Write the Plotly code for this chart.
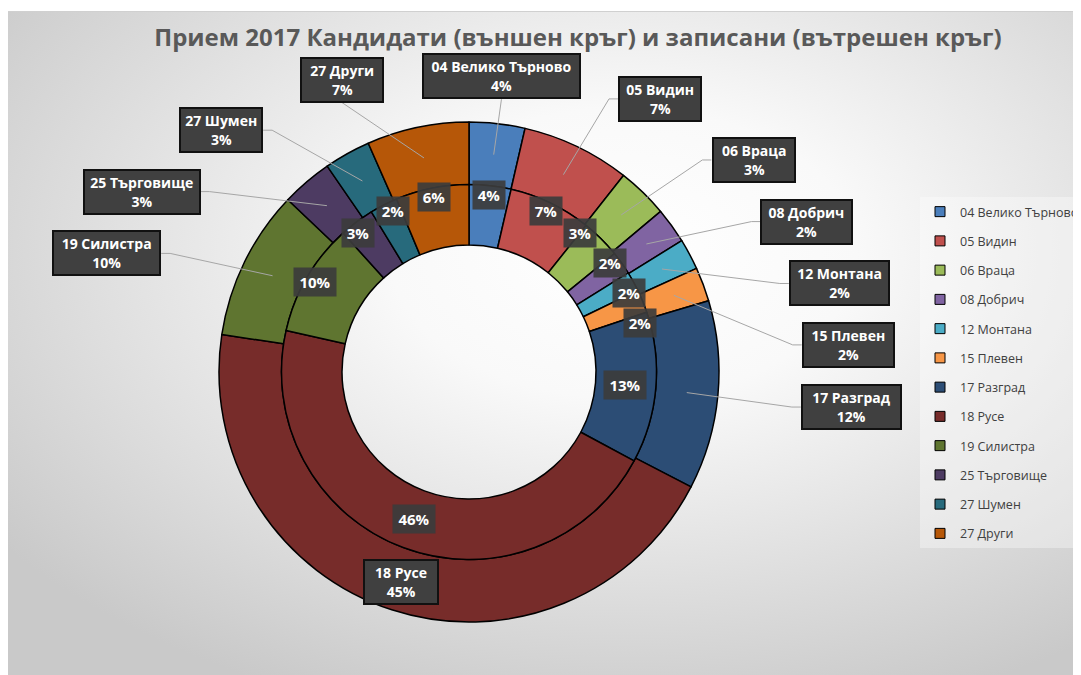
import math, base64
import plotly.graph_objects as go

# ---------------- data ----------------
categories = ["04 Велико Търново", "05 Видин", "06 Враца", "08 Добрич", "12 Монтана",
              "15 Плевен", "17 Разград", "18 Русе", "19 Силистра", "25 Търговище",
              "27 Шумен", "27 Други"]
candidates = [3.6, 7.0, 3.3, 2.3, 2.0, 2.2, 12.2, 44.8, 9.7, 3.3, 3.0, 6.6]   # outer ring
enrolled   = [3.6, 7.1, 3.4, 2.0, 1.7, 2.0, 13.0, 45.6, 9.7, 3.0, 2.4, 6.3]   # inner ring
colors = ["#4a7ebb", "#c0504d", "#9bbb59", "#8064a2", "#4bacc6", "#f79646",
          "#2c4d75", "#772c2a", "#5f7530", "#4d3b62", "#276a7c", "#b65708"]
title = "Прием 2017 Кандидати (външен кръг) и записани (вътрешен кръг)"

# ---------------- geometry (screen pixels) ----------------
W, H = 1081, 675
OFF = 8            # page body margin
CX, CY = 469, 372
R_OUT, R_MID, R_HOLE = 250, 187.5, 127
FONT = "Open Sans"


def px(sx):
    return (sx - OFF) / W


def py(sy):
    return 1 - (sy - OFF) / H


def pt(r, th):
    return CX + r * math.sin(th), CY - r * math.cos(th)


def mids(vals):
    tot = sum(vals)
    out, c = [], 0.0
    for v in vals:
        out.append(2 * math.pi * (c + v / 2) / tot)
        c += v
    return out


def pct(vals):
    tot = sum(vals)
    return [f"{round(100 * v / tot)}%" for v in vals]


def norm(a):
    a = math.fmod(a, 2 * math.pi)
    if a > math.pi:
        a -= 2 * math.pi
    return a


def relax(idx, th, center_of, sizes, mx=6, my=6, step=math.radians(0.25), iters=900):
    for _ in range(iters):
        moved = False
        order = sorted(idx, key=lambda i: norm(th[i]))
        for a in range(len(order)):
            for b in range(a + 1, len(order)):
                i, j = order[a], order[b]
                xi, yi = center_of(i)
                xj, yj = center_of(j)
                wi, hi = sizes[i]
                wj, hj = sizes[j]
                if abs(xi - xj) < (wi + wj) / 2 + mx and abs(yi - yj) < (hi + hj) / 2 + my:
                    th[i] -= 2 * step * wj / (wi + wj)
                    th[j] += 2 * step * wi / (wi + wj)
                    moved = True
        if not moved:
            break


fig = go.Figure()

dom_out = dict(x=[px(CX - R_OUT), px(CX + R_OUT)], y=[py(CY + R_OUT), py(CY - R_OUT)])
dom_in = dict(x=[px(CX - R_MID), px(CX + R_MID)], y=[py(CY + R_MID), py(CY - R_MID)])

fig.add_trace(go.Pie(labels=categories, values=candidates, sort=False, direction="clockwise",
                     rotation=0, hole=R_MID / R_OUT, domain=dom_out, textinfo="none",
                     marker=dict(colors=colors, line=dict(color="#000000", width=1.5)),
                     showlegend=False, name="Кандидати"))
fig.add_trace(go.Pie(labels=categories, values=enrolled, sort=False, direction="clockwise",
                     rotation=0, hole=R_HOLE / R_MID, domain=dom_in, textinfo="none",
                     marker=dict(colors=colors, line=dict(color="#000000", width=1.5)),
                     showlegend=False, name="Записани"))

# legend entries
for c, col in zip(categories, colors):
    fig.add_trace(go.Scatter(x=[None], y=[None], mode="markers", name=c, legendgroup=c,
                             marker=dict(symbol="square", size=10, color=col,
                                         line=dict(color="#000000", width=1)),
                             hoverinfo="skip"))

annotations, shapes = [], []

# ---------------- outer labels ----------------
o_mid = mids(candidates)
o_pct = pct(candidates)
o_th = list(o_mid)
tot_o = sum(candidates)
CH = 8.3
o_sizes = [(CH * len(c) + 18, 46) for c in categories]


def D_of(th):
    return 268 + 66 * abs(math.sin(th))


def o_center(i):
    th = o_th[i]
    w, h = o_sizes[i]
    x0, y0 = pt(D_of(th), th)
    return x0 + w / 2 * math.sin(th), y0 - h / 2 * math.cos(th)


outside = [i for i, v in enumerate(candidates) if v / tot_o < 0.3]
inside = [i for i, v in enumerate(candidates) if v / tot_o >= 0.3]
relax(outside, o_th, o_center, o_sizes, mx=36, my=15)

R_ANCH = (R_MID + R_OUT) / 2
for i in range(len(categories)):
    w, h = o_sizes[i]
    if i in inside:
        cx, cy = pt(R_ANCH + 2, o_mid[i])
    else:
        cx, cy = o_center(i)
        ax_, ay_ = pt(R_ANCH, o_mid[i])
        s = math.sin(o_th[i])
        if abs(s) > 0.4:
            sg = 1 if s > 0 else -1
            bx = cx - sg * w / 2
            path = f"M {ax_},{ay_} L {bx - sg * 9},{cy} L {bx},{cy}"
        else:
            by = cy + h / 2 if math.cos(o_th[i]) > 0 else cy - h / 2
            path = f"M {ax_},{ay_} L {cx},{by}"
        shapes.append(dict(type="path", path=path, xref="x", yref="y", layer="above",
                           line=dict(color="#a6a6a6", width=1)))
    annotations.append(dict(x=cx, y=cy, xref="x", yref="y", showarrow=False,
                            xanchor="center", yanchor="middle",
                            text=f"<b>{categories[i]}</b><br><b>{o_pct[i]}</b>",
                            font=dict(family=FONT, size=14, color="#ffffff"),
                            bgcolor="#404040", bordercolor="#111111", borderwidth=2,
                            borderpad=3, width=w - 10, height=h - 10, align="center"))

# ---------------- inner labels ----------------
i_mid = mids(enrolled)
i_pct = pct(enrolled)
i_th = list(i_mid)
tot_i = sum(enrolled)
i_sizes = [(10 * len(p) + 12, 28) for p in i_pct]
i_rad = [157 if v / tot_i >= 0.12 else 178 for v in enrolled]


def i_center(i):
    return pt(i_rad[i], i_th[i])


relax(list(range(len(enrolled))), i_th, i_center, i_sizes, mx=2, my=2)
for i in range(len(enrolled)):
    cx, cy = i_center(i)
    annotations.append(dict(x=cx, y=cy, xref="x", yref="y", showarrow=False,
                            xanchor="center", yanchor="middle",
                            text=f"<b>{i_pct[i]}</b>",
                            font=dict(family=FONT, size=15, color="#ffffff"),
                            bgcolor="rgba(60,60,60,0.92)", borderpad=4,
                            width=i_sizes[i][0] - 8, height=i_sizes[i][1] - 8))

# ---------------- background ----------------
BX0, BY0 = 6, 11          # panel top-left on screen
BW, BH = W + OFF - BX0, H + OFF - BY0
svg = (f'<svg xmlns="http://www.w3.org/2000/svg" width="{BW}" height="{BH}" '
       f'viewBox="0 0 {BW} {BH}" preserveAspectRatio="none"><defs>'
       '<radialGradient id="g" cx="0.57" cy="0.36" r="0.72">'
       '<stop offset="0" stop-color="#ffffff"/><stop offset="0.3" stop-color="#f9f9f9"/>'
       '<stop offset="1" stop-color="#c9c9c9"/></radialGradient></defs>'
       f'<rect x="0.5" y="0.5" width="{BW - 1}" height="{BH - 1}" fill="url(#g)" '
       'stroke="#d0d0d0" stroke-width="1"/></svg>')
src = "data:image/svg+xml;base64," + base64.b64encode(svg.encode("utf-8")).decode()

fig.update_layout(
    width=W, height=H, margin=dict(l=0, r=0, t=0, b=0),
    paper_bgcolor="#ffffff", plot_bgcolor="rgba(0,0,0,0)",
    images=[dict(source=src, xref="paper", yref="paper", x=px(BX0), y=py(BY0),
                 sizex=BW / W, sizey=BH / H, xanchor="left", yanchor="top",
                 sizing="stretch", layer="below")],
    xaxis=dict(range=[OFF, W + OFF], visible=False, fixedrange=True),
    yaxis=dict(range=[H + OFF, OFF], visible=False, fixedrange=True),
    title=dict(text=f"<b>{title}</b>", x=px(578), xanchor="center", y=py(38),
               yanchor="middle", yref="container",
               font=dict(family=FONT, size=24, color="#595959")),
    legend=dict(x=px(920), xanchor="left", y=py(197), yanchor="top",
                font=dict(family=FONT, size=12.5, color="#404040"),
                bgcolor="rgba(255,255,255,0.35)", tracegroupgap=10,
                itemclick=False, itemdoubleclick=False),
    annotations=annotations, shapes=shapes, showlegend=True,
)

fig.write_html("out.html")
